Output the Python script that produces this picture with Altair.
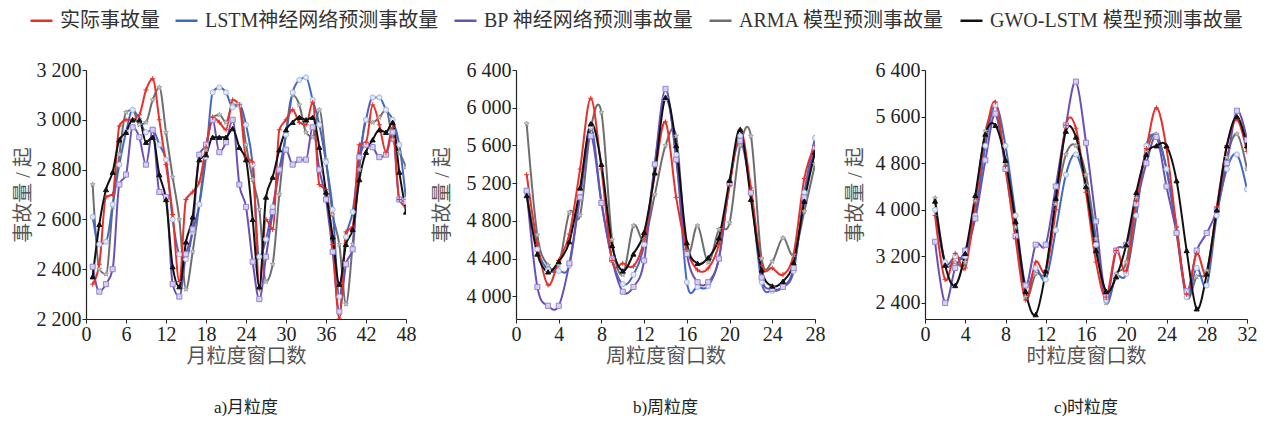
import altair as alt
import pandas as pd

FONT = "Liberation Serif, Noto Sans CJK SC"

SERIES = ["实际事故量", "LSTM神经网络预测事故量", "BP 神经网络预测事故量",
          "ARMA 模型预测事故量", "GWO-LSTM 模型预测事故量"]
LINE_COLORS = ["#e8302a", "#4368c4", "#6a50b4", "#6e6e6e", "#111111"]
MARK_FILL = ["#e8302a", "#e4e9f7", "#d8d0f2", "#d6d6d6", "#111111"]
MARK_STROKE = ["#e8302a", "#a3b4e2", "#9383d2", "#a0a0a0", "#111111"]
STAR = "M0,-1L0.24,-0.33L0.95,-0.31L0.38,0.12L0.59,0.81L0,0.4L-0.59,0.81L-0.38,0.12L-0.95,-0.31L-0.24,-0.33Z"
SHAPES = ["M-1,0L1,0M0,-1L0,1", "circle", "square", STAR, "triangle-up"]
DRAW_ORDER = [3, 1, 2, 0, 4]

# ---------------- a) 月粒度 ----------------
x_month = list(range(1, 49))
real_a = [2340, 2420, 2690, 2700, 2975, 3000, 3000, 3020, 3120, 3165, 3000, 2820, 2620, 2350, 2680, 2710,
          2750, 2890, 3010, 2990, 2960, 3080, 3060, 2850, 2830, 2320, 2600, 2560, 2960, 3000, 3040, 2990,
          2980, 3070, 2740, 2720, 2500, 2200, 2550, 2570, 2900, 2910, 3060, 2980, 2870, 2970, 2680, 2650]
lstm_a = [2610, 2500, 2510, 2660, 2820, 2950, 3040, 3000, 2950, 2960, 2900, 2840, 2600, 2460, 2440, 2550,
          2660, 2850, 3110, 3130, 3110, 3050, 3060, 2980, 2820, 2450, 2520, 2650, 2800, 2940, 3110, 3160,
          3170, 3080, 2980, 2830, 2640, 2290, 2530, 2630, 2850, 3000, 3090, 3090, 3040, 3000, 2900, 2680]
bp_a = [2410, 2310, 2340, 2400, 2740, 2780, 2970, 2930, 2820, 2960, 2710, 2690, 2340, 2290, 2460, 2560,
        2860, 2900, 3000, 2870, 2910, 3000, 2740, 2650, 2430, 2280, 2450, 2630, 2800, 2880, 2820, 2840,
        2840, 2970, 2800, 2680, 2470, 2230, 2420, 2480, 2850, 2900, 2890, 2850, 2860, 2950, 2680, 2670]
arma_a = [2740, 2400, 2380, 2650, 2860, 3030, 3040, 2980, 2990, 3080, 3130, 2950, 2770, 2600, 2320, 2470,
          2660, 2880, 3010, 3020, 2990, 3060, 3060, 2900, 2760, 2640, 2350, 2420, 2700, 2950, 3100, 3060,
          2950, 2930, 3040, 2840, 2620, 2500, 2260, 2500, 2800, 3000, 2990, 3010, 3040, 2920, 2870, 2810]
gwo_a = [2370, 2580, 2720, 2790, 2920, 2950, 3000, 3000, 2910, 2930, 2780, 2680, 2410, 2330, 2510, 2610,
         2840, 2860, 2930, 2930, 2930, 2965, 2890, 2840, 2600, 2330, 2690, 2770, 2880, 2960, 2990, 3010,
         3000, 3010, 2890, 2710, 2530, 2340, 2500, 2560, 2760, 2870, 2920, 2960, 2950, 2990, 2790, 2630]

# ---------------- b) 周粒度 ----------------
x_week = list(range(1, 29))
real_b = [5290, 4550, 4120, 4380, 4660, 5350, 6100, 5350, 4380, 4350, 4320, 4600, 5300, 5850,
          5050, 4500, 4280, 4300, 4550, 5170, 5770, 5150, 4330, 4300, 4230, 4450, 5250, 5600]
lstm_b = [5100, 4500, 4280, 4270, 4330, 5100, 5800, 5000, 4400, 4130, 4230, 4550, 5400, 6100,
          5500, 4150, 4100, 4110, 4400, 5200, 5700, 5100, 4150, 4060, 4100, 4270, 5100, 5680]
bp_b = [5120, 4100, 3900, 3900, 4350, 5050, 5700, 4990, 4390, 4050, 4100, 4380, 5400, 6200,
        5450, 4450, 4150, 4150, 4400, 5200, 5650, 5100, 4200, 4080, 4100, 4300, 5050, 5580]
arma_b = [5830, 4650, 4330, 4330, 4890, 4860, 5780, 5950, 4600, 4230, 4750, 4600, 5080, 5600,
          5700, 4480, 4750, 4360, 4710, 4780, 5600, 5700, 4400, 4370, 4620, 4440, 4900, 5400]
gwo_b = [5070, 4450, 4260, 4370, 4580, 5150, 5830, 5400, 4540, 4270, 4450, 4680, 5310, 6110,
         5600, 4570, 4350, 4410, 4620, 5230, 5770, 5030, 4280, 4110, 4160, 4360, 5010, 5530]

# ---------------- c) 时粒度 ----------------
x_hour = list(range(1, 33))
real_c = [3900, 2800, 3250, 3000, 4100, 5250, 5850, 4750, 3500, 2450, 3100, 2950, 4000, 5450, 5400, 4300,
          3100, 2500, 3300, 2950, 4150, 5050, 5750, 5050, 3700, 2550, 3250, 2900, 4050, 5100, 5550, 5000]
lstm_c = [4000, 3100, 3200, 3200, 3900, 5100, 5800, 5100, 3900, 2700, 3000, 2800, 3650, 4600, 4950, 4400,
          3400, 2450, 2850, 2900, 3900, 5100, 5250, 4700, 3600, 2500, 3000, 2700, 3900, 4700, 4950, 4350]
bp_c = [3450, 2400, 3000, 3300, 3850, 4850, 5650, 4700, 3550, 2700, 3400, 3400, 4400, 5450, 6200, 5150,
        3800, 2500, 3300, 3400, 4100, 4800, 5250, 4400, 3600, 2600, 3300, 3600, 4000, 4800, 5700, 5200]
arma_c = [4200, 3100, 3100, 3100, 4150, 5350, 5650, 4800, 3700, 2500, 2900, 2950, 4100, 4950, 5100, 4600,
          3500, 2400, 2900, 3100, 4200, 5000, 5300, 4700, 3700, 2500, 2850, 2950, 4000, 4900, 5300, 4700]
gwo_c = [4150, 3050, 2700, 3250, 4250, 5300, 5450, 4850, 3800, 2600, 2200, 2950, 4200, 5350, 5250, 4400,
         3300, 2600, 2850, 3400, 4300, 4950, 5100, 5100, 4500, 3300, 2300, 2900, 4000, 5100, 5600, 5100]

# axis ticks
xticks_a = [0, 6, 12, 18, 24, 30, 36, 42, 48]
xticks_b = [0, 4, 8, 12, 16, 20, 24, 28]
xticks_c = [0, 4, 8, 12, 16, 20, 24, 28, 32]
yticks_a = [2200, 2400, 2600, 2800, 3000, 3200]
yticks_b = [4000, 4400, 4800, 5200, 5600, 6000, 6400]
yticks_c = [2400, 3200, 4000, 4800, 5600, 6400]


def long_df(xs, series_values):
    rows = []
    for idx in DRAW_ORDER:
        for x, v in zip(xs, series_values[idx]):
            rows.append({"x": x, "v": v, "series": SERIES[idx]})
    return pd.DataFrame(rows)


LEGEND = alt.Legend(title=None, orient="none", legendX=-57, legendY=-62, direction="horizontal",
                    columns=5, symbolType="stroke", symbolSize=484, symbolStrokeWidth=2.5,
                    labelFontSize=20, labelFont=FONT, labelColor="#333333", columnPadding=10,
                    labelOffset=6, labelLimit=400)


def panel(df, xticks, ydom, yticks, xtitle, caption, width, interp, tpad):
    xenc = alt.X("x:Q", scale=alt.Scale(domain=[xticks[0], xticks[-1]], nice=False, zero=False),
                 axis=alt.Axis(values=xticks, title=xtitle, grid=False, labelFlush=False))
    yenc = alt.Y("v:Q", scale=alt.Scale(domain=ydom, nice=False, zero=False),
                 axis=alt.Axis(values=yticks, title="事故量 / 起", grid=False, titlePadding=tpad,
                               labelExpr="replace(format(datum.value, ','), ',', ' ')"))
    lines = alt.Chart(df).mark_line(interpolate=interp, strokeWidth=2, clip=True).encode(
        x=xenc, y=yenc,
        color=alt.Color("series:N", sort=SERIES,
                        scale=alt.Scale(domain=SERIES, range=LINE_COLORS), legend=LEGEND),
    )
    layers = [lines]
    for idx in DRAW_ORDER:
        layers.append(
            alt.Chart(df).transform_filter(alt.datum.series == SERIES[idx]).mark_point(
                filled=True, shape=SHAPES[idx], fill=MARK_FILL[idx], stroke=MARK_STROKE[idx],
                size=26, strokeWidth=1, opacity=1, clip=True,
            ).encode(x=xenc, y=yenc)
        )
    return alt.layer(*layers).properties(
        width=width, height=249,
        title=alt.TitleParams(caption, orient="bottom", offset=34, fontSize=17, font=FONT,
                              color="#222222", fontWeight="normal"),
    )


pa = panel(long_df(x_month, [real_a, lstm_a, bp_a, arma_a, gwo_a]), xticks_a, [2200, 3200], yticks_a,
           "月粒度窗口数", "a)月粒度", 320, "monotone", 3)
pb = panel(long_df(x_week, [real_b, lstm_b, bp_b, arma_b, gwo_b]), xticks_b, [3760, 6400], yticks_b,
           "周粒度窗口数", "b)周粒度", 299, "cardinal", 14)
pc = panel(long_df(x_hour, [real_c, lstm_c, bp_c, arma_c, gwo_c]), xticks_c, [2124, 6400], yticks_c,
           "时粒度窗口数", "c)时粒度", 322, "cardinal", 10)

chart = alt.hconcat(pa, pb, pc, spacing=110, bounds="flush").resolve_scale(
    color="shared"
).properties(
    padding={"left": 5, "top": 0, "right": 0, "bottom": 0}
).configure(font=FONT).configure_view(strokeWidth=0).configure_axis(
    labelFont=FONT, labelFontSize=20, labelColor="#222222", titleFont=FONT, titleFontSize=20,
    titleColor="#555555", titleFontWeight="normal", domainColor="#222222", domainWidth=1.2,
    tickColor="#222222", tickSize=4, labelPadding=1,
).configure_axisX(titlePadding=2)

chart.save("out.html", embed_options={"renderer": "svg", "actions": False})
